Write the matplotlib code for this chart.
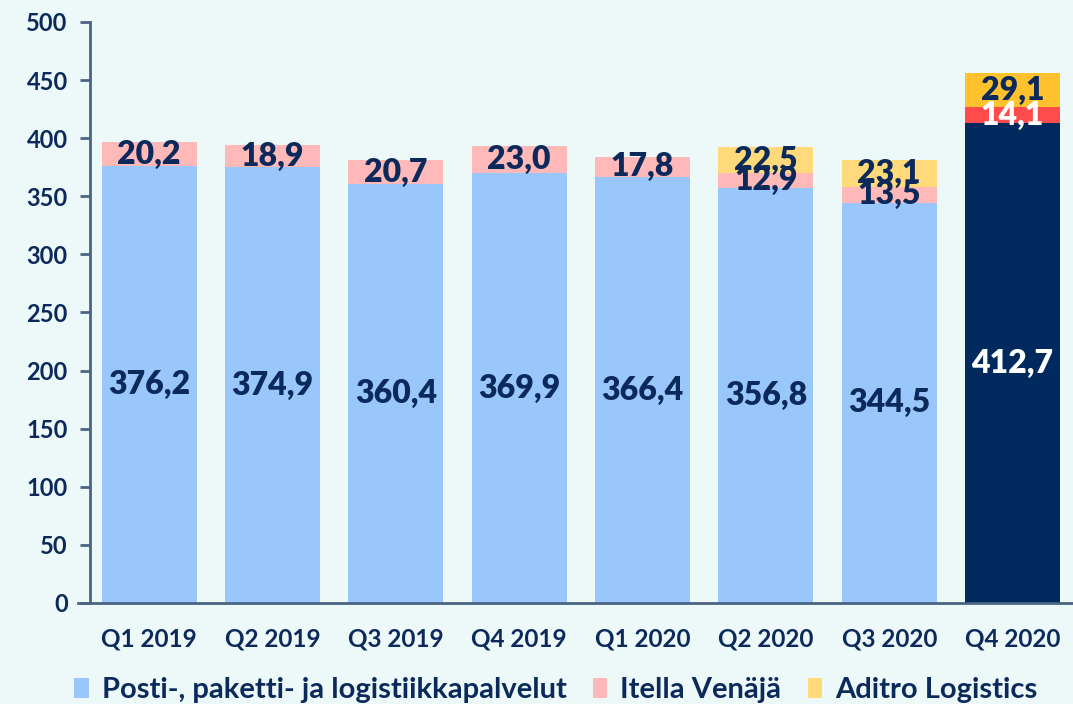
import numpy as np
import matplotlib.pyplot as plt
from matplotlib.patches import Patch

quarters = ["Q1 2019", "Q2 2019", "Q3 2019", "Q4 2019",
            "Q1 2020", "Q2 2020", "Q3 2020", "Q4 2020"]
posti = [376.2, 374.9, 360.4, 369.9, 366.4, 356.8, 344.5, 412.7]
itella = [20.2, 18.9, 20.7, 23.0, 17.8, 12.9, 13.5, 14.1]
aditro = [0, 0, 0, 0, 0, 22.5, 23.1, 29.1]
series_names = ["Posti-, paketti- ja logistiikkapalvelut", "Itella Venäjä", "Aditro Logistics"]

bg = "#edf8f8"
navy = "#0b2a5b"
light = ["#99c7fc", "#ffb9b9", "#ffd97a"]
dark = ["#002a5e", "#ff4b4b", "#ffc12e"]

plt.rcParams['font.family'] = ['Lato', 'DejaVu Sans']
plt.rcParams['font.weight'] = 'bold'

fig = plt.figure(figsize=(10.73, 7.04), dpi=100, facecolor=bg)
ax = fig.add_axes([0.0839, 0.1435, 0.9161, 0.8253], facecolor=bg)

x = np.arange(len(quarters))
w = 0.77
n = len(quarters)
cols = [[dark[k] if i == n - 1 else light[k] for i in range(n)] for k in range(3)]

bottom = np.zeros(n)
for k, vals in enumerate([posti, itella, aditro]):
    vals = np.array(vals)
    ax.bar(x, vals, w, bottom=bottom, color=cols[k], zorder=2)
    for i in range(n):
        if vals[i] <= 0:
            continue
        tc = "white" if (i == n - 1 and k < 2) else navy
        ax.text(x[i], bottom[i] + vals[i] / 2, f"{vals[i]:.1f}".replace(".", ","),
                ha="center", va="center", color=tc, fontsize=23, fontweight="heavy",
                zorder=3)
    bottom = bottom + vals

ax.set_xlim(-0.48, 7.49)
ax.set_ylim(0, 500)
ax.set_yticks(range(0, 501, 50))
ax.set_xticks(x)
ax.set_xticklabels(quarters)
ax.tick_params(axis="y", length=7, width=2, color="#4a6584", labelsize=17,
               labelcolor=navy, pad=9)
ax.tick_params(axis="x", length=0, labelsize=17.5, labelcolor=navy, pad=18)
for s in ["top", "right"]:
    ax.spines[s].set_visible(False)
for s in ["left", "bottom"]:
    ax.spines[s].set_color("#4a6584")
    ax.spines[s].set_linewidth(2)
ax.spines["bottom"].set_bounds(-0.58, 7.49)
ax.spines["bottom"].set_zorder(4)

handles = [Patch(facecolor=light[k], edgecolor="none") for k in range(3)]
fig.legend(handles, series_names, loc="center", bbox_to_anchor=(0.518, 0.02),
           ncol=3, frameon=False, fontsize=21, labelcolor=navy,
           handlelength=0.5, handleheight=0.7, handletextpad=0.45, columnspacing=0.9)

fig.savefig("out.png", dpi=100, facecolor=bg)
